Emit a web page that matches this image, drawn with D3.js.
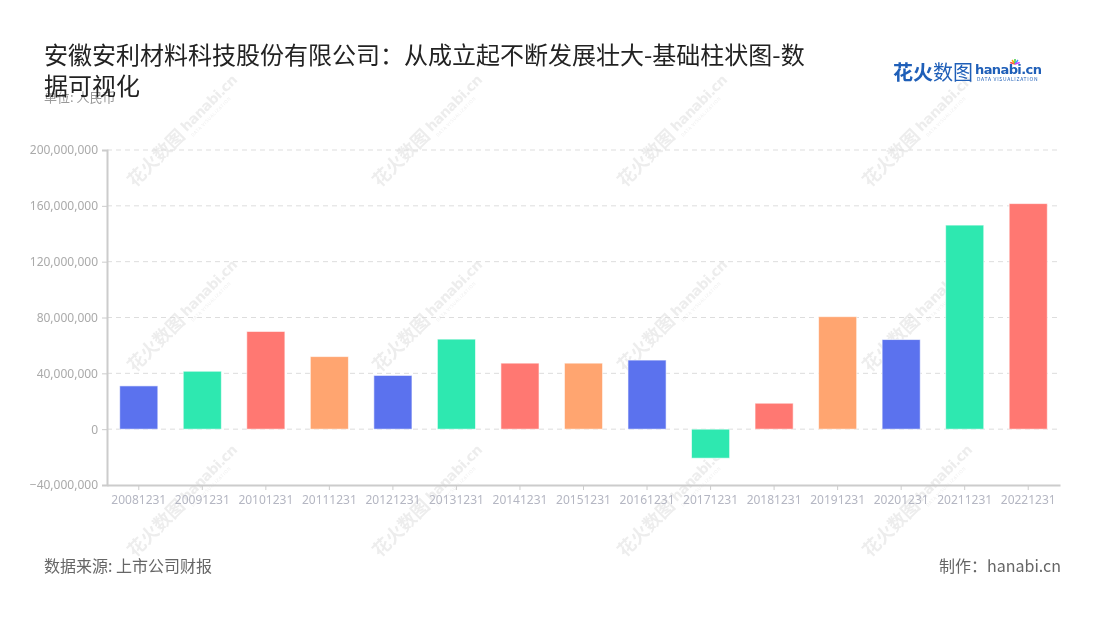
<!DOCTYPE html>
<html><head><meta charset="utf-8">
<script src="https://cdn.jsdelivr.net/npm/d3@7/dist/d3.min.js"></script>
<style>
body{margin:0;background:#fff;}
svg{display:block;font-family:"Noto Sans CJK SC","Noto Sans",sans-serif;}
</style></head>
<body><svg id="c" width="1100" height="620"></svg>
<script>
const categories = ["20081231","20091231","20101231","20111231","20121231","20131231","20141231","20151231","20161231","20171231","20181231","20191231","20201231","20211231","20221231"];
const values = [31000000,41500000,70000000,52000000,38500000,64500000,47300000,47300000,49500000,-20800000,18600000,80600000,64200000,146200000,161600000];
const yTicks = [-40000000,0,40000000,80000000,120000000,160000000,200000000];
const palette = ["#5b72ee","#2ee8b0","#ff7872","#ffa570"];
const titleLines = ["安徽安利材料科技股份有限公司：从成立起不断发展壮大-基础柱状图-数","据可视化"];

(function(){
const svg = d3.select("#c");
const mL=107,mR=1060,mT=150,mB=485;

const x = d3.scaleBand().domain(categories).range([mL,mR]).paddingInner(0.4).paddingOuter(0.2);
const y = d3.scaleLinear().domain([-40000000,200000000]).range([mB,mT]);

// watermarks
const wm = svg.append("g").attr("opacity",0.09);
for (let i=0;i<4;i++) for (let j=0;j<3;j++){
  const cx = 135 + i*245, cy = 188 + j*185;
  const g = wm.append("g").attr("transform",`translate(${cx},${cy}) rotate(-45)`);
  g.append("text").attr("x",0).attr("y",0).attr("font-size",18).attr("font-weight",700).attr("fill","#333").text("花火数图");
  g.append("text").attr("x",76).attr("y",-3).attr("font-size",14).attr("font-weight",700).attr("fill","#333").attr("font-family","'DejaVu Sans',sans-serif").attr("letter-spacing",-0.5).text("hanabi.cn");
  g.append("text").attr("x",77).attr("y",5).attr("font-size",4.5).attr("fill","#333").attr("letter-spacing",0.6).text("DATA VISUALIZATION");
}

// gridlines
svg.append("g").selectAll("line").data(yTicks.filter(d=>d!==-40000000)).join("line")
  .attr("x1",mL).attr("x2",mR).attr("y1",d=>y(d)).attr("y2",d=>y(d))
  .attr("stroke","#dddddd").attr("stroke-dasharray","5,4").attr("stroke-width",1);

// bars
svg.append("g").selectAll("rect").data(values).join("rect")
  .attr("x",(d,i)=>x(categories[i]))
  .attr("width",x.bandwidth())
  .attr("y",d=>y(Math.max(0,d)))
  .attr("height",d=>Math.abs(y(d)-y(0)))
  .attr("fill",(d,i)=>palette[i%4])
  .attr("stroke","#ffffff").attr("stroke-opacity",0.6).attr("stroke-width",1);

// y axis
const yAxis = svg.append("g").attr("transform",`translate(${mL},0)`)
  .call(d3.axisLeft(y).tickValues(yTicks).tickSize(5).tickPadding(4).tickFormat(d3.format(",")));
yAxis.select(".domain").attr("stroke","#cccccc").attr("stroke-width",2);
yAxis.selectAll(".tick line").attr("stroke","#cccccc");
yAxis.selectAll("text").attr("fill","#aaaaaa").attr("font-size",12).attr("font-family","'Noto Sans',sans-serif");

// x axis
const xAxis = svg.append("g").attr("transform",`translate(0,${mB})`)
  .call(d3.axisBottom(x).tickSize(5).tickPadding(5).tickSizeOuter(0));
xAxis.select(".domain").attr("stroke","#cccccc").attr("stroke-width",2);
xAxis.selectAll(".tick line").attr("stroke","#cccccc");
xAxis.selectAll("text").attr("fill","#b4b6c2").attr("font-size",12).attr("font-family","'Noto Sans',sans-serif");

// unit
svg.append("text").attr("x",44).attr("y",102).attr("font-size",13).attr("fill","#999").text("单位: 人民币");

// title
svg.append("g").selectAll("text").data(titleLines).join("text")
  .attr("x",44).attr("y",(d,i)=>64+i*31).attr("font-size",24).attr("fill","#222").text(d=>d);

// logo
const logo = svg.append("g");
logo.append("text").attr("x",893).attr("y",80).attr("font-size",20).attr("font-weight",700).attr("fill","#1f5fb8").text("花火");
logo.append("text").attr("x",933).attr("y",80).attr("font-size",20).attr("fill","#1f5fb8").text("数图");
logo.append("text").attr("x",975).attr("y",74).attr("font-size",13).attr("font-weight",700).attr("fill","#1f5fb8").attr("font-family","'DejaVu Sans',sans-serif").attr("letter-spacing",-0.6).text("hanabi.cn");
logo.append("text").attr("x",977).attr("y",81).attr("font-size",5).attr("fill","#1f5fb8").attr("letter-spacing",0.7).text("DATA VISUALIZATION");
const sparks = ["#f44","#fa0","#4c4","#49f","#c4f"];
sparks.forEach((c,i)=>{
  const a = -Math.PI*0.9 + i*Math.PI*0.2;
  logo.append("line").attr("x1",1015).attr("y1",64).attr("x2",1015+Math.cos(a)*5).attr("y2",64+Math.sin(a)*5).attr("stroke",c).attr("stroke-width",1.5);
});

// footer
svg.append("text").attr("x",44).attr("y",572).attr("font-size",16).attr("fill","#666").text("数据来源: 上市公司财报");
svg.append("text").attr("x",1061).attr("y",572).attr("text-anchor","end").attr("font-size",16).attr("fill","#666").text("制作：hanabi.cn");
})();
</script></body></html>
